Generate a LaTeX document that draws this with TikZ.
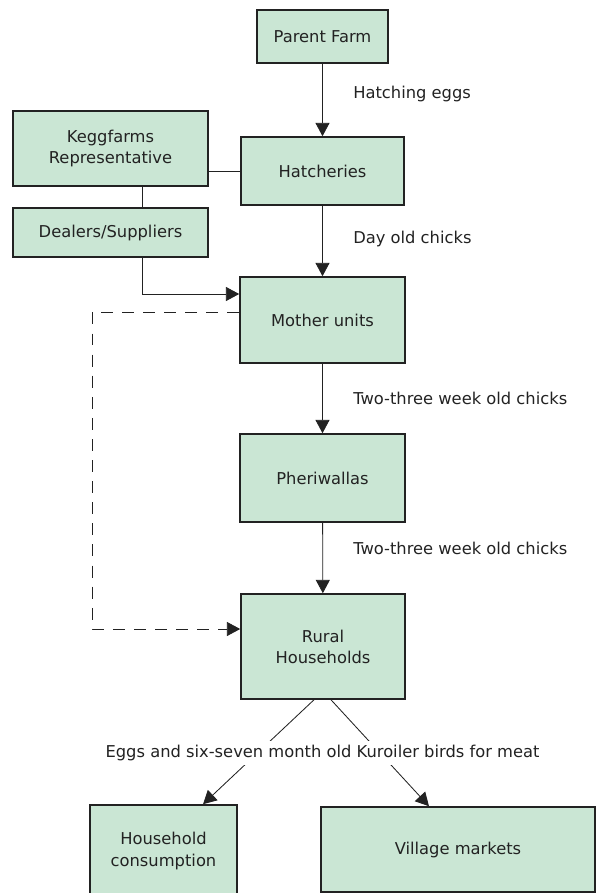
\documentclass[tikz,border=0pt]{standalone}
\usepackage{fontspec}
\setmainfont{DejaVu Sans}
\usetikzlibrary{arrows.meta, calc}

\definecolor{boxgreen}{RGB}{202,230,212}
\definecolor{ink}{RGB}{34,34,34}

\tikzset{
  box/.style={draw=ink, line width=1.1pt, fill=boxgreen, align=center, inner sep=0pt, text=ink},
  flow/.style={-{Triangle[length=9.5pt, width=10pt]}, semithick, draw=ink},
  link/.style={semithick, draw=ink},
  lbl/.style={text=ink, anchor=west, inner sep=0pt},
  loopline/.style={dash pattern=on 8.5pt off 6.5pt},
}

\begin{document}
\begin{tikzpicture}[x=0.025cm, y=-0.025cm, font=\fontsize{11.6}{15}\selectfont]
  \useasboundingbox (0,0) rectangle (596,893);

  % Kette der Stationen
  \node[box, minimum width=3.275cm, minimum height=1.325cm] (parent) at (322.5,36.5) {Parent Farm};
  \node[box, minimum width=4.075cm, minimum height=1.7cm] (hatch) at (322.5,171) {Hatcheries};
  \node[box, minimum width=4.125cm, minimum height=2.15cm] (mother) at (322.5,320) {Mother units};
  \node[box, minimum width=4.125cm, minimum height=2.2cm] (pheri) at (322.5,478) {Pheriwallas};
  \node[box, minimum width=4.1cm, minimum height=2.625cm] (rural) at (323,646.5) {Rural\\Households};

  % Seitenkasten links
  \node[box, minimum width=4.875cm, minimum height=1.875cm] (kegg) at (110.5,148.5) {Keggfarms\\Representative};
  \node[box, minimum width=4.875cm, minimum height=1.225cm] (dealers) at (110.5,232.5) {Dealers/Suppliers};

  % Abnehmer unten
  \node[box, minimum width=3.675cm, minimum height=2.3cm] (household) at (163.5,851) {Household\\consumption};
  \node[box, minimum width=6.85cm, minimum height=2.125cm] (village) at (458,849.5) {Village markets};

  % Pfeile der Kette + Texte
  \draw[flow] (parent) -- (hatch);
  \node[lbl] (eggs) at (353,94) {Hatching eggs};
  \draw[flow] (hatch) -- (mother);
  \node[lbl] (dayold) at (353,239) {Day old chicks};
  \draw[flow] (mother) -- (pheri);
  \node[lbl] (weeksa) at (353,398) {Two-three week old chicks};
  \draw[flow] (pheri) -- (rural);
  \node[lbl] (weeksb) at (353,548) {Two-three week old chicks};

  % Verbindungen links
  \coordinate (tap) at (142,294);
  \draw[link] (hatch.west) -- (hatch.west -| kegg.east);
  \draw[link] (kegg.south -| tap) -- (dealers.north -| tap);
  \draw[flow] (dealers.south -| tap) |- (mother.west |- tap);

  % gestrichelte Schleife
  \coordinate (loopa) at (92,312);
  \coordinate (loopb) at (92,629);
  \draw[flow, loopline] (mother.west |- loopa) -- (loopa) -- (loopb) -- (rural.west |- loopb);

  % Aufteilung + Text
  \draw[flow] ($(rural.south)+(-9,0)$) -- ($(household.north)+(39.5,0)$);
  \draw[flow] ($(rural.south)+(8,0)$) -- ($(village.north)+(-29,0)$);
  \node[fill=white, text=ink, inner xsep=2pt, inner ysep=2.8pt] (use) at (322.5,753) {Eggs and six-seven month old Kuroiler birds for meat};
\end{tikzpicture}
\end{document}
